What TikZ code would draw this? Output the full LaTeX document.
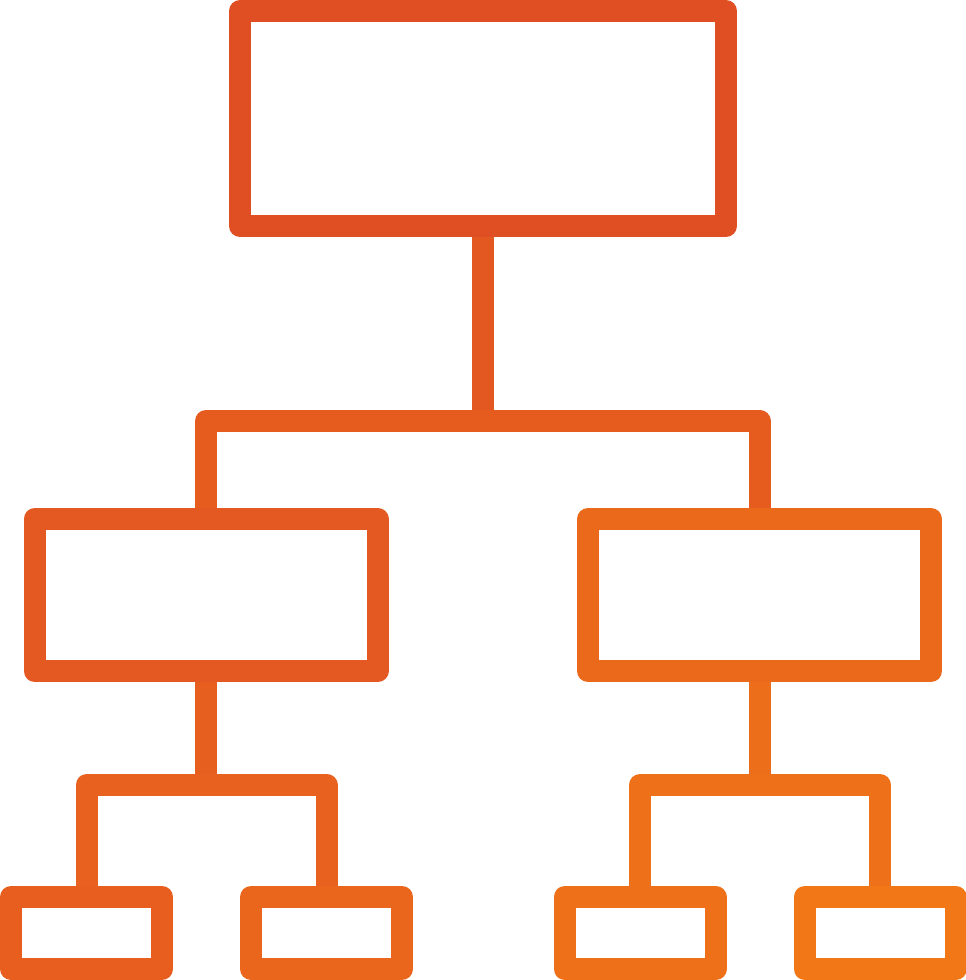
\documentclass[tikz,border=0pt]{standalone}
\usetikzlibrary{backgrounds}
\newlength\px
\setlength\px{0.02cm}
\definecolor{hotred}{RGB}{219,67,39}
\definecolor{hotorange}{RGB}{243,123,22}
\tikzset{
  box/.style={draw, rectangle, inner sep=0pt, outer sep=0pt, line width=22\px, line join=round},
  bigbox/.style={box, minimum width=486\px, minimum height=215\px},
  midbox/.style={box, minimum width=343\px, minimum height=152\px},
  leafbox/.style={box, minimum width=151\px, minimum height=72\px},
  wire/.style={line width=22\px, line join=round}
}
\begin{document}
\begin{tikzpicture}[x=0.02cm, y=-0.02cm]
      \useasboundingbox (0,0) rectangle (966,980);
      \node[bigbox, draw=hotorange!22!hotred] (root) at (483,118.5) {};
      \node[midbox, draw=hotorange!38!hotred] (left) at (206,595) {};
      \node[midbox, draw=hotorange!68!hotred] (right) at (759.5,595) {};
      \node[leafbox, draw=hotorange!48!hotred] (leftA) at (86.5,933) {};
      \node[leafbox, draw=hotorange!62!hotred] (leftB) at (326.5,933) {};
      \node[leafbox, draw=hotorange!80!hotred] (rightA) at (640,933) {};
      \node[leafbox, draw=hotorange!94!hotred] (rightB) at (880,933) {};
      \coordinate (fork) at (483,421);
      \coordinate (forkL) at (206,785);
      \coordinate (forkR) at (759.5,785);
      \begin{pgfonlayer}{background}
        \draw[wire, hotorange!35!hotred] (root.south) -- (fork);
        \draw[wire, hotorange!45!hotred] (left.north) |- (fork) -| (right.north);
        \draw[wire, hotorange!50!hotred] (left.south) -- (forkL);
        \draw[wire, hotorange!54!hotred] (leftA.north) |- (forkL) -| (leftB.north);
        \draw[wire, hotorange!76!hotred] (right.south) -- (forkR);
        \draw[wire, hotorange!80!hotred] (rightA.north) |- (forkR) -| (rightB.north);
      \end{pgfonlayer}
    \end{tikzpicture}
\end{document}
